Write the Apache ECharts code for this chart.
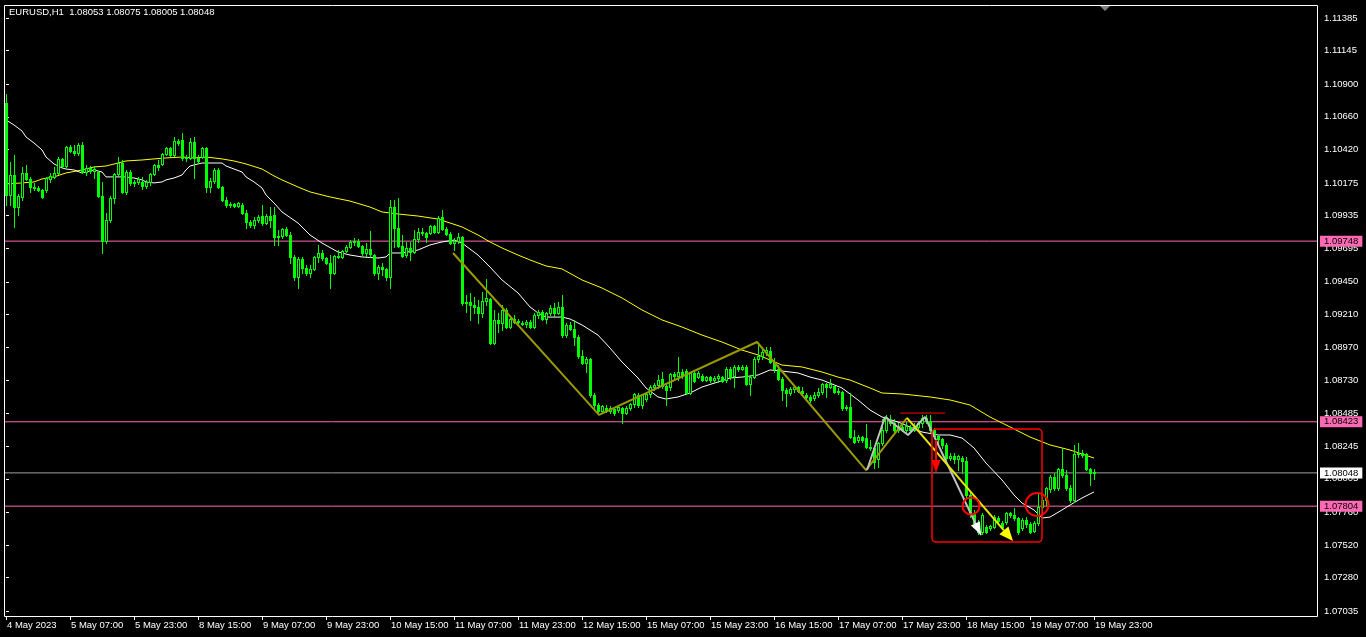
<!DOCTYPE html>
<html><head><meta charset="utf-8">
<script src="https://cdn.jsdelivr.net/npm/echarts@6/dist/echarts.min.js"></script>
<style>html,body{margin:0;padding:0;background:#000;overflow:hidden}#c{width:1366px;height:637px}</style>
</head><body><div id="c"></div>
<script>
// ---------------- DATA ----------------
const chartTitle = 'EURUSD,H1  1.08053 1.08075 1.08005 1.08048';
const timeLabels = ['4 May 2023','5 May 07:00','5 May 23:00','8 May 15:00','9 May 07:00','9 May 23:00','10 May 15:00','11 May 07:00','11 May 23:00','12 May 15:00','15 May 07:00','15 May 23:00','16 May 15:00','17 May 07:00','17 May 23:00','18 May 15:00','19 May 07:00','19 May 23:00'];
const barsPerTimeLabel = 16;
const priceTicks = [1.11385,1.11145,1.10900,1.10660,1.10420,1.10175,1.09935,1.09695,1.09450,1.09210,1.08970,1.08730,1.08485,1.08245,1.08005,1.07760,1.07520,1.07280,1.07035];
const priceMin = 1.06991, priceMax = 1.11480;
const visibleSlots = 328.5;

const opens = [1.10761,1.10087,1.10233,1.09998,1.10072,1.10248,1.10204,1.10145,1.10138,1.10123,
1.10123,1.10204,1.10219,1.10248,1.10351,1.10299,1.10439,1.10409,1.10395,1.10453,
1.10255,1.10285,1.10263,1.10255,1.10079,1.09749,1.09903,1.10064,1.10241,1.10321,
1.10109,1.10255,1.10175,1.10182,1.10182,1.10153,1.10182,1.10241,1.10307,1.10314,
1.10387,1.10431,1.10380,1.10483,1.10490,1.10358,1.10358,1.10475,1.10358,1.10365,
1.10431,1.10145,1.10189,1.10270,1.10145,1.10050,1.10013,1.10020,1.10006,1.10013,
1.09954,1.09888,1.09866,1.09903,1.09932,1.09881,1.09932,1.09940,1.09778,1.09786,
1.09837,1.09793,1.09632,1.09485,1.09617,1.09551,1.09514,1.09544,1.09632,1.09661,
1.09624,1.09588,1.09514,1.09639,1.09632,1.09676,1.09705,1.09742,1.09749,1.09712,
1.09661,1.09690,1.09646,1.09514,1.09558,1.09544,1.09485,1.09998,1.09844,1.09712,
1.09646,1.09698,1.09668,1.09764,1.09815,1.09808,1.09808,1.09859,1.09815,1.09925,
1.09837,1.09800,1.09734,1.09749,1.09778,1.09294,1.09302,1.09280,1.09265,1.09221,
1.09309,1.09324,1.09001,1.09170,1.09148,1.09243,1.09118,1.09177,1.09155,1.09148,
1.09140,1.09155,1.09118,1.09206,1.09228,1.09177,1.09221,1.09258,1.09221,1.09265,
1.09059,1.09133,1.09103,1.09045,1.08905,1.08854,1.08883,1.08619,1.08546,1.08502,
1.08524,1.08502,1.08517,1.08509,1.08524,1.08487,1.08524,1.08553,1.08619,1.08546,
1.08590,1.08627,1.08678,1.08693,1.08737,1.08685,1.08678,1.08773,1.08759,1.08788,
1.08795,1.08634,1.08781,1.08751,1.08759,1.08729,1.08751,1.08729,1.08744,1.08751,
1.08729,1.08810,1.08759,1.08825,1.08810,1.08825,1.08700,1.08751,1.08883,1.08905,
1.08935,1.08942,1.08861,1.08810,1.08737,1.08656,1.08634,1.08663,1.08678,1.08649,
1.08619,1.08605,1.08597,1.08619,1.08641,1.08700,1.08678,1.08685,1.08641,1.08641,
1.08524,1.08531,1.08311,1.08289,1.08311,1.08304,1.08238,1.08231,1.08150,1.08267,
1.08363,1.08436,1.08414,1.08363,1.08385,1.08363,1.08385,1.08363,1.08385,1.08414,
1.08451,1.08429,1.08363,1.08319,1.08297,1.08253,1.08157,1.08172,1.08150,1.08157,
1.08135,1.07886,1.07746,1.07680,1.07614,1.07651,1.07644,1.07651,1.07717,1.07680,
1.07688,1.07754,1.07739,1.07717,1.07644,1.07702,1.07673,1.07622,1.07680,1.07798,
1.07849,1.07930,1.08018,1.07937,1.08076,1.08032,1.07937,1.07849,1.08186,1.08194,
1.08186,1.08076,1.08053];

const highs = [1.10828,1.10329,1.10380,1.10094,1.10292,1.10307,1.10219,1.10175,1.10153,1.10131,
1.10219,1.10248,1.10292,1.10365,1.10358,1.10446,1.10453,1.10453,1.10468,1.10475,
1.10307,1.10299,1.10299,1.10263,1.10182,1.09954,1.10079,1.10248,1.10365,1.10343,
1.10270,1.10270,1.10197,1.10219,1.10219,1.10197,1.10248,1.10314,1.10343,1.10395,
1.10439,1.10439,1.10512,1.10497,1.10541,1.10380,1.10505,1.10512,1.10380,1.10439,
1.10439,1.10211,1.10285,1.10285,1.10153,1.10072,1.10035,1.10028,1.10035,1.10028,
1.09976,1.09903,1.09925,1.09940,1.10013,1.09947,1.09998,1.09998,1.09830,1.09844,
1.09852,1.09815,1.09646,1.09632,1.09632,1.09573,1.09573,1.09639,1.09720,1.09683,
1.09632,1.09646,1.09646,1.09683,1.09683,1.09720,1.09756,1.09771,1.09764,1.09720,
1.09734,1.09822,1.09654,1.09573,1.09588,1.09551,1.10050,1.10050,1.10064,1.09793,
1.09742,1.09742,1.09830,1.09844,1.09844,1.09815,1.09866,1.09866,1.09932,1.09976,
1.09852,1.09815,1.09771,1.09808,1.09786,1.09353,1.09368,1.09338,1.09316,1.09375,
1.09470,1.09331,1.09243,1.09221,1.09280,1.09258,1.09191,1.09206,1.09177,1.09162,
1.09170,1.09170,1.09221,1.09243,1.09243,1.09228,1.09280,1.09294,1.09302,1.09353,
1.09148,1.09155,1.09170,1.09059,1.08949,1.08898,1.08890,1.08634,1.08561,1.08546,
1.08546,1.08539,1.08531,1.08546,1.08531,1.08539,1.08561,1.08634,1.08634,1.08627,
1.08641,1.08693,1.08707,1.08766,1.08788,1.08707,1.08781,1.08788,1.08898,1.08810,
1.08810,1.08788,1.08788,1.08795,1.08773,1.08759,1.08759,1.08759,1.08773,1.08759,
1.08825,1.08825,1.08839,1.08839,1.08839,1.08839,1.08766,1.08898,1.09001,1.08971,
1.08971,1.08971,1.08891,1.08839,1.08751,1.08671,1.08678,1.08693,1.08685,1.08678,
1.08634,1.08619,1.08641,1.08671,1.08707,1.08707,1.08737,1.08693,1.08671,1.08649,
1.08546,1.08634,1.08363,1.08326,1.08319,1.08407,1.08289,1.08238,1.08275,1.08443,
1.08473,1.08473,1.08443,1.08414,1.08421,1.08421,1.08399,1.08414,1.08429,1.08473,
1.08473,1.08473,1.08377,1.08326,1.08304,1.08267,1.08194,1.08194,1.08179,1.08172,
1.08164,1.07908,1.07776,1.07702,1.07754,1.07666,1.07666,1.07739,1.07732,1.07695,
1.07761,1.07761,1.07790,1.07724,1.07717,1.07724,1.07688,1.07695,1.07900,1.07871,
1.07944,1.08032,1.08047,1.08084,1.08231,1.08069,1.07959,1.08253,1.08267,1.08216,
1.08194,1.08084,1.08075];

const lows = [1.10013,1.10013,1.09852,1.09940,1.10050,1.10197,1.10109,1.10123,1.10116,1.10064,
1.10109,1.10182,1.10211,1.10241,1.10292,1.10292,1.10402,1.10380,1.10380,1.10248,
1.10233,1.10248,1.10211,1.10072,1.09661,1.09734,1.09888,1.10028,1.10233,1.10101,
1.10094,1.10160,1.10153,1.10167,1.10131,1.10138,1.10160,1.10233,1.10270,1.10307,
1.10380,1.10373,1.10373,1.10453,1.10343,1.10336,1.10351,1.10211,1.10321,1.10358,
1.10109,1.10109,1.10175,1.10138,1.10042,1.09998,1.09998,1.09998,1.09998,1.09947,
1.09844,1.09852,1.09844,1.09888,1.09866,1.09874,1.09852,1.09720,1.09720,1.09771,
1.09786,1.09588,1.09463,1.09404,1.09514,1.09500,1.09485,1.09536,1.09595,1.09610,
1.09580,1.09404,1.09507,1.09624,1.09624,1.09668,1.09698,1.09720,1.09705,1.09646,
1.09639,1.09632,1.09500,1.09470,1.09500,1.09463,1.09404,1.09705,1.09705,1.09632,
1.09632,1.09610,1.09661,1.09742,1.09793,1.09742,1.09800,1.09808,1.09808,1.09830,
1.09793,1.09727,1.09683,1.09734,1.09280,1.09228,1.09170,1.09221,1.09147,1.09191,
1.09280,1.08993,1.08993,1.09081,1.09096,1.09111,1.09111,1.09148,1.09140,1.09133,
1.09118,1.09111,1.09111,1.09184,1.09170,1.09148,1.09206,1.09199,1.09214,1.09045,
1.09045,1.09096,1.08986,1.08891,1.08847,1.08788,1.08605,1.08524,1.08495,1.08495,
1.08495,1.08487,1.08473,1.08495,1.08414,1.08480,1.08509,1.08531,1.08531,1.08524,
1.08575,1.08605,1.08656,1.08671,1.08671,1.08546,1.08656,1.08729,1.08729,1.08744,
1.08627,1.08627,1.08715,1.08744,1.08722,1.08722,1.08715,1.08715,1.08715,1.08715,
1.08715,1.08737,1.08678,1.08795,1.08803,1.08693,1.08619,1.08744,1.08861,1.08883,
1.08913,1.08854,1.08788,1.08729,1.08583,1.08539,1.08619,1.08641,1.08641,1.08619,
1.08583,1.08568,1.08583,1.08605,1.08627,1.08605,1.08671,1.08634,1.08627,1.08509,
1.08509,1.08304,1.08267,1.08275,1.08275,1.08231,1.08216,1.08084,1.08091,1.08253,
1.08348,1.08399,1.08348,1.08348,1.08355,1.08348,1.08355,1.08355,1.08363,1.08385,
1.08414,1.08348,1.08304,1.08253,1.08231,1.08142,1.08142,1.08120,1.08069,1.08047,
1.07871,1.07724,1.07666,1.07600,1.07600,1.07607,1.07629,1.07644,1.07688,1.07644,
1.07673,1.07724,1.07702,1.07600,1.07629,1.07651,1.07607,1.07614,1.07666,1.07739,
1.07812,1.07908,1.07922,1.07922,1.08018,1.07922,1.07834,1.07834,1.08164,1.08164,
1.08069,1.07959,1.08005];

const closes = [1.10087,1.10233,1.09998,1.10079,1.10248,1.10204,1.10145,1.10138,1.10123,1.10072,
1.10211,1.10226,1.10248,1.10351,1.10299,1.10439,1.10409,1.10395,1.10453,1.10255,
1.10285,1.10263,1.10277,1.10079,1.09749,1.09903,1.10064,1.10241,1.10321,1.10109,
1.10255,1.10175,1.10182,1.10204,1.10153,1.10182,1.10241,1.10307,1.10292,1.10387,
1.10431,1.10380,1.10483,1.10468,1.10358,1.10365,1.10475,1.10358,1.10336,1.10431,
1.10145,1.10189,1.10270,1.10145,1.10050,1.10013,1.10020,1.10006,1.10028,1.09954,
1.09888,1.09866,1.09903,1.09925,1.09881,1.09932,1.09903,1.09778,1.09786,1.09837,
1.09793,1.09632,1.09485,1.09617,1.09551,1.09514,1.09544,1.09632,1.09661,1.09624,
1.09588,1.09514,1.09639,1.09632,1.09676,1.09705,1.09742,1.09749,1.09712,1.09661,
1.09690,1.09654,1.09514,1.09558,1.09544,1.09485,1.09998,1.09844,1.09712,1.09639,
1.09698,1.09668,1.09764,1.09815,1.09808,1.09778,1.09859,1.09815,1.09918,1.09837,
1.09800,1.09734,1.09749,1.09778,1.09294,1.09302,1.09280,1.09265,1.09221,1.09309,
1.09331,1.09001,1.09170,1.09148,1.09243,1.09118,1.09177,1.09155,1.09162,1.09140,
1.09155,1.09118,1.09206,1.09228,1.09177,1.09221,1.09258,1.09221,1.09265,1.09059,
1.09133,1.09103,1.09045,1.08905,1.08854,1.08883,1.08619,1.08546,1.08502,1.08539,
1.08502,1.08524,1.08487,1.08531,1.08487,1.08524,1.08553,1.08627,1.08546,1.08619,
1.08627,1.08678,1.08693,1.08729,1.08685,1.08656,1.08773,1.08759,1.08788,1.08766,
1.08634,1.08781,1.08722,1.08781,1.08729,1.08751,1.08729,1.08744,1.08759,1.08722,
1.08810,1.08751,1.08825,1.08810,1.08825,1.08700,1.08751,1.08883,1.08905,1.08935,
1.08949,1.08861,1.08810,1.08737,1.08656,1.08634,1.08663,1.08678,1.08649,1.08634,
1.08605,1.08583,1.08619,1.08641,1.08700,1.08678,1.08700,1.08641,1.08649,1.08524,
1.08531,1.08311,1.08275,1.08311,1.08289,1.08238,1.08231,1.08128,1.08267,1.08363,
1.08458,1.08414,1.08363,1.08392,1.08363,1.08392,1.08363,1.08385,1.08414,1.08451,
1.08429,1.08363,1.08319,1.08297,1.08253,1.08157,1.08172,1.08150,1.08172,1.08135,
1.07886,1.07746,1.07680,1.07614,1.07739,1.07614,1.07658,1.07724,1.07695,1.07651,
1.07754,1.07739,1.07717,1.07614,1.07702,1.07673,1.07614,1.07680,1.07798,1.07849,
1.07937,1.08018,1.07937,1.08076,1.08032,1.07937,1.07849,1.08186,1.08194,1.08179,
1.08076,1.08047,1.08048];

// moving averages: [bar index, price]
const maFast = [[0,1.10637],[2,1.10600],[4,1.10556],[5,1.10512],[7,1.10468],[9,1.10417],[10,1.10365],[12,1.10314],[14,1.10285],[15,1.10277],[17,1.10270],[19,1.10248],[20,1.10255],[22,1.10270],[24,1.10255],[25,1.10219],[27,1.10219],[29,1.10219],[30,1.10219],[32,1.10211],[34,1.10197],[35,1.10182],[37,1.10175],[39,1.10182],[40,1.10197],[42,1.10211],[44,1.10233],[45,1.10270],[46,1.10299],[48,1.10314],[49,1.10321],[52,1.10321],[54,1.10321],[55,1.10299],[57,1.10277],[59,1.10255],[60,1.10219],[62,1.10182],[64,1.10138],[65,1.10087],[67,1.10028],[69,1.09962],[73,1.09881],[76,1.09793],[79,1.09734],[83,1.09668],[86,1.09646],[89,1.09632],[93,1.09624],[95,1.09632],[96,1.09661],[99,1.09661],[103,1.09683],[106,1.09720],[109,1.09742],[112,1.09756],[114,1.09734],[118,1.09646],[121,1.09558],[124,1.09463],[128,1.09368],[131,1.09265],[133,1.09221],[135,1.09191],[139,1.09191],[141,1.09177],[144,1.09133],[148,1.09059],[151,1.08964],[154,1.08861],[158,1.08744],[160,1.08671],[163,1.08605],[165,1.08590],[168,1.08605],[171,1.08634],[174,1.08678],[178,1.08715],[181,1.08744],[184,1.08751],[188,1.08766],[191,1.08803],[194,1.08795],[198,1.08781],[201,1.08751],[204,1.08729],[209,1.08671],[213,1.08583],[216,1.08509],[219,1.08458],[223,1.08421],[226,1.08385],[229,1.08348],[233,1.08326],[236,1.08326],[239,1.08304],[242,1.08231],[245,1.08120],[249,1.07996],[252,1.07886],[254,1.07827],[257,1.07776],[259,1.07717],[261,1.07724],[264,1.07776],[266,1.07812],[269,1.07864],[272,1.07908]];
const maSlow = [[0,1.10167],[4,1.10175],[7,1.10182],[9,1.10204],[12,1.10219],[15,1.10248],[19,1.10270],[22,1.10292],[25,1.10299],[28,1.10321],[30,1.10336],[34,1.10343],[37,1.10351],[40,1.10358],[44,1.10365],[47,1.10358],[50,1.10365],[54,1.10351],[57,1.10336],[60,1.10314],[64,1.10277],[67,1.10226],[69,1.10197],[73,1.10145],[76,1.10109],[81,1.10072],[86,1.10042],[91,1.09998],[94,1.09962],[98,1.09947],[103,1.09932],[108,1.09910],[111,1.09881],[114,1.09852],[118,1.09793],[121,1.09742],[124,1.09698],[128,1.09646],[131,1.09610],[135,1.09566],[139,1.09544],[144,1.09463],[149,1.09404],[154,1.09331],[159,1.09243],[164,1.09170],[169,1.09118],[174,1.09059],[179,1.09008],[184,1.08949],[188,1.08913],[191,1.08876],[194,1.08839],[199,1.08825],[204,1.08788],[208,1.08751],[211,1.08729],[216,1.08671],[219,1.08634],[224,1.08627],[231,1.08605],[236,1.08583],[241,1.08546],[246,1.08458],[251,1.08385],[256,1.08311],[261,1.08253],[266,1.08216],[272,1.08157]];

// horizontal levels
const pinkLevels = [1.09748, 1.08423, 1.07804];
const bidLevel = 1.08048;

// drawn objects: [bar index, price]
const zigzagPath = [[111.75,1.09661],[148.25,1.08473],[187.75,1.09008],[215,1.08069],[225.25,1.08451]];
const yellowArrow = [225.25,1.08451,251.75,1.07548];
const greyPath = [[215.25,1.08069],[219.75,1.08458],[225.5,1.08326],[229.75,1.08458],[243.75,1.07592]];
const greyArrowHead = [229.75,1.08458,243.75,1.07592];
const redArrow = [232.5,1.08289,232.5,1.08047];
const redTopLine = [[223.5,1.08487],[234.75,1.08487]];
const redBox = [231.5,1.08370,259,1.07541];
const redCircles = [[241.25,1.07805],[257.75,1.07816]];

// ---------------- STYLE ----------------
const FONT = "'Liberation Sans','DejaVu Sans',sans-serif";
const FS = 9.5;
const LIME = '#00ff00';
const BEAR_FILL = '#00ff00';
const BULL_FILL = '#000000';
const circleRadii = [8.5, 11.5];

const candleData = opens.map((o, k) => [k, o, closes[k], lows[k], highs[k]]);

function renderCandle(params, api) {
  const i = api.value(0), o = api.value(1), c = api.value(2), l = api.value(3), h = api.value(4);
  const po = api.coord([i, o]), pc = api.coord([i, c]), pl = api.coord([i, l]), ph = api.coord([i, h]);
  const cx = Math.round(po[0]);
  const yH = Math.round(ph[1]), yL = Math.round(pl[1]);
  const yO = Math.round(po[1]), yC = Math.round(pc[1]);
  const top = Math.min(yO, yC), bot = Math.max(yO, yC);
  const children = [
    {type:'rect', shape:{x:cx, y:yH, width:1, height:Math.max(1, yL - yH + 1)}, style:{fill:LIME, stroke:null}},
    {type:'rect', shape:{x:cx-1, y:top, width:3, height:Math.max(1, bot - top + 1)}, style:{fill:LIME, stroke:null}}
  ];
  if (bot - top >= 2) {
    children.push({type:'rect', shape:{x:cx, y:top+1, width:1, height:bot-top-1}, style:{fill: c >= o ? BULL_FILL : BEAR_FILL, stroke:null}});
  }
  return {type:'group', children};
}

function arrowRenderer(shaftColor, headColor, lineW, headLen, headHalf, drawShaft) {
  return function (params, api) {
    const a = api.coord([api.value(0), api.value(1)]);
    const b = api.coord([api.value(2), api.value(3)]);
    const dx = b[0]-a[0], dy = b[1]-a[1];
    const len = Math.hypot(dx, dy) || 1;
    const ux = dx/len, uy = dy/len;
    const bx = b[0]-ux*headLen, by = b[1]-uy*headLen;
    const px = -uy, py = ux;
    const ch = [];
    if (drawShaft) ch.push({type:'line', shape:{x1:a[0], y1:a[1], x2:bx, y2:by}, style:{stroke:shaftColor, lineWidth:lineW}});
    ch.push({type:'polygon', shape:{points:[[b[0],b[1]],[bx+px*headHalf, by+py*headHalf],[bx-px*headHalf, by-py*headHalf]]}, style:{fill:headColor}});
    return {type:'group', children:ch};
  };
}

function levelSeries(price, color, labelBg) {
  return {
    type:'line', xAxisIndex:0, yAxisIndex:0, silent:true, animation:false,
    data:[[-0.5, price],[visibleSlots-0.5, price]], showSymbol:false, symbol:'none',
    lineStyle:{color, width:1}, z:3,
    endLabel:{show:true, formatter: () => price.toFixed(5), color:'#000000', backgroundColor:labelBg,
      padding:[1,4,0,4], fontSize:FS, fontFamily:FONT, distance:2}
  };
}

const series = [];
pinkLevels.forEach(p => series.push(levelSeries(p, '#ff69b4', '#ff69b4')));
series.push(levelSeries(bidLevel, '#a0a0a0', '#ffffff'));

series.push({type:'line', silent:true, animation:false, data:maSlow, showSymbol:false, symbol:'none', lineStyle:{color:'#ffff00', width:1}, z:4});
series.push({type:'line', silent:true, animation:false, data:maFast, showSymbol:false, symbol:'none', lineStyle:{color:'#ffffff', width:1}, z:4});

series.push({type:'custom', silent:true, animation:false, data:candleData, renderItem:renderCandle, z:5,
  encode:{x:0, y:[1,2,3,4]}});

series.push({type:'line', silent:true, animation:false, data:zigzagPath, showSymbol:false, symbol:'none', lineStyle:{color:'#9a9a00', width:2}, z:6});
series.push({type:'custom', silent:true, animation:false, data:[yellowArrow], renderItem:arrowRenderer('#e8e800','#ffff00',2,14,6,true), z:7, encode:{x:[0,2], y:[1,3]}});
series.push({type:'line', silent:true, animation:false, data:greyPath, showSymbol:false, symbol:'none', lineStyle:{color:'#c0c0c0', width:2}, z:6});
series.push({type:'custom', silent:true, animation:false, data:[greyArrowHead], renderItem:arrowRenderer('#c0c0c0','#ffffff',2,13,5,false), z:7, encode:{x:[0,2], y:[1,3]}});
series.push({type:'custom', silent:true, animation:false, data:[redArrow], renderItem:arrowRenderer('#ff0000','#ff0000',2,13,4.5,true), z:7, encode:{x:[0,2], y:[1,3]}});
series.push({type:'line', silent:true, animation:false, data:redTopLine, showSymbol:false, symbol:'none', lineStyle:{color:'#ff0000', width:1}, z:6});
series.push({type:'custom', silent:true, animation:false, data:[redBox], z:7, encode:{x:[0,2], y:[1,3]},
  renderItem:(params, api) => {
    const a = api.coord([api.value(0), api.value(1)]);
    const b = api.coord([api.value(2), api.value(3)]);
    return {type:'rect', shape:{x:a[0], y:a[1], width:b[0]-a[0], height:b[1]-a[1], r:4},
      style:{fill:null, stroke:'#ff0000', lineWidth:1.5}};
  }});
series.push({type:'custom', silent:true, animation:false, data:redCircles, z:8, encode:{x:0, y:1},
  renderItem:(params, api) => {
    const p = api.coord([api.value(0), api.value(1)]);
    return {type:'circle', shape:{cx:p[0], cy:p[1], r:circleRadii[params.dataIndex]},
      style:{fill:null, stroke:'#ff0000', lineWidth:2}};
  }});

const chart = echarts.init(document.getElementById('c'), null, {renderer:'canvas'});
chart.setOption({
  backgroundColor:'#000000',
  animation:false,
  grid:{left:4, top:5, width:1314, height:612, show:false},
  xAxis:{
    type:'value', min:-0.5, max:visibleSlots-0.5,
    axisLine:{show:false}, splitLine:{show:false},
    axisTick:{show:true, length:3, lineStyle:{color:'#ffffff'}, customValues: timeLabels.map((t,k)=>k*barsPerTimeLabel)},
    axisLabel:{show:true, color:'#ffffff', fontSize:FS, fontFamily:FONT, align:'left', margin:3, padding:[0,0,0,1],
      customValues: timeLabels.map((t,k)=>k*barsPerTimeLabel),
      formatter: v => timeLabels[Math.round(v / barsPerTimeLabel)] || ''}
  },
  yAxis:{
    type:'value', position:'right', min:priceMin, max:priceMax, scale:true,
    axisLine:{show:false}, splitLine:{show:false},
    axisTick:{show:true, length:3, lineStyle:{color:'#ffffff'}, customValues: priceTicks},
    axisLabel:{show:true, color:'#ffffff', fontSize:FS, fontFamily:FONT, margin:6,
      customValues: priceTicks, formatter: v => v.toFixed(5)}
  },
  series,
  graphic:[
    {type:'rect', z:100, silent:true, shape:{x:4.5, y:5.5, width:1313, height:611}, style:{fill:null, stroke:'#ffffff', lineWidth:1}},
    {type:'text', z:100, silent:true, left:9, top:7, style:{text:chartTitle, fill:'#ffffff', font: FS + 'px ' + FONT}},
    {type:'polygon', z:100, silent:true, shape:{points:[[1100,6],[1110,6],[1105,11]]}, style:{fill:'#808080'}}
  ]
});
</script>
</body></html>
